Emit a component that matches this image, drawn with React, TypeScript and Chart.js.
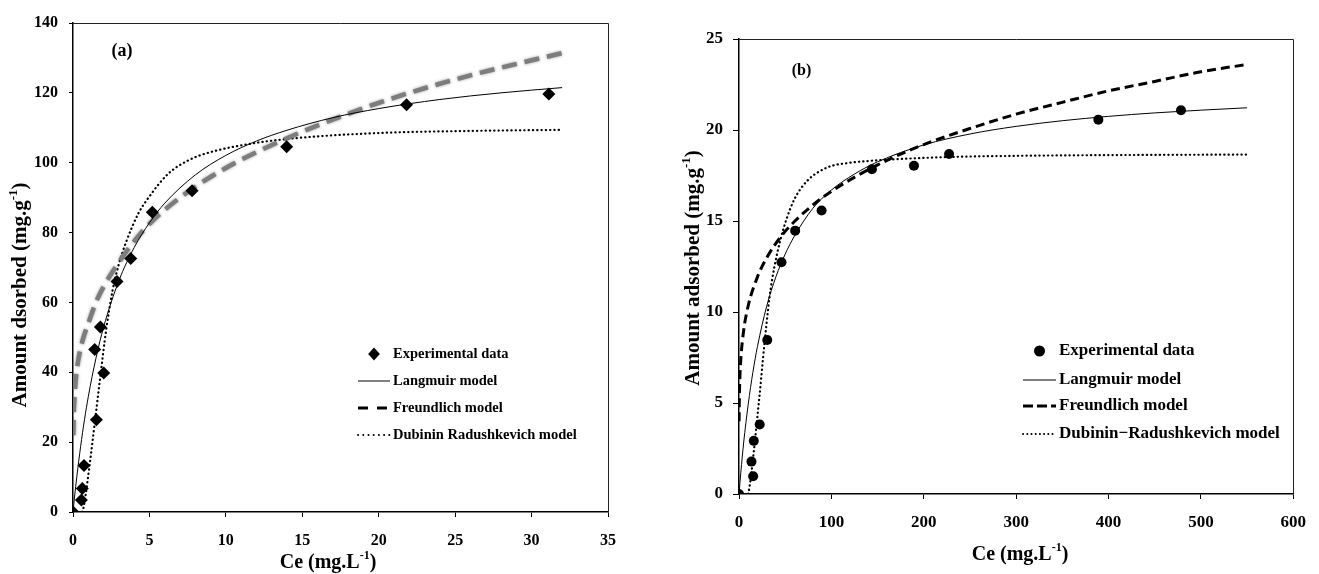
import React, { useEffect, useRef } from 'react';
import { Chart, registerables } from 'chart.js';

Chart.register(...registerables);
Chart.defaults.font.family = '"Liberation Serif", "Times New Roman", serif';
Chart.defaults.color = '#000';

// ---------------- (a) data ----------------
const xTicksA = [0, 5, 10, 15, 20, 25, 30, 35];
const yTicksA = [0, 20, 40, 60, 80, 100, 120, 140];

const expA_Ce = [0, 0.55, 0.61, 0.72, 1.53, 1.42, 1.79, 2.01, 2.88, 3.78, 5.19, 7.79, 13.98, 21.82, 31.13];
const expA_q = [0, 3.4, 6.7, 13.3, 26.4, 46.5, 53.0, 39.8, 66.0, 72.6, 85.8, 92.0, 104.6, 116.6, 119.7];

const langA_Ce = [0, 0.1, 0.25, 0.5, 0.75, 1, 1.5, 2, 3, 4, 5, 6, 8, 10, 12, 14, 17, 20, 24, 28, 32];
const langA_q = [0, 4.3, 10.1, 18.8, 26.4, 33.0, 44.0, 52.9, 66.2, 75.7, 82.8, 88.4, 96.5, 102.1, 106.2, 109.3, 112.9, 115.5, 118.1, 120.0, 121.5];

const freuA_Ce = [0.02, 0.05, 0.1, 0.2, 0.4, 0.7, 1, 1.5, 2, 3, 4, 5, 7, 10, 14, 18, 22, 26, 32];
const freuA_q = [22, 28.5, 33, 38.8, 44.8, 50.2, 54, 60, 64.5, 71.5, 77.5, 82.5, 90, 98.5, 107, 114, 120, 125, 131.4];

const drA_Ce = [0.6, 0.7, 0.83, 1.0, 1.16, 1.49, 1.82, 2.15, 2.59, 3.0, 3.45, 4.28, 5.11, 6.22, 7.6, 8.98, 11.7, 14.5, 20, 26, 32];
const drA_q = [0, 1.5, 5, 10.5, 16, 28, 40, 51.5, 63.5, 71, 77, 85.5, 91, 96.8, 100.8, 103, 105.5, 107, 108.5, 109.1, 109.4];

// ---------------- (b) data ----------------
const xTicksB = [0, 100, 200, 300, 400, 500, 600];
const yTicksB = [0, 5, 10, 15, 20, 25];

const expB_Ce = [0, 13.5, 15.3, 16, 22.4, 30.6, 46, 60.8, 89.4, 143.9, 189.4, 227.4, 389, 478.5];
const expB_q = [0, 1.78, 0.98, 2.92, 3.82, 8.46, 12.73, 14.47, 15.58, 17.84, 18.04, 18.68, 20.57, 21.09];

const langB_Ce = [0, 2, 5, 10, 15, 20, 30, 40, 50, 60, 80, 100, 125, 150, 200, 250, 300, 350, 400, 450, 500, 550];
const langB_q = [0, 1.2, 2.8, 4.94, 6.68, 8.11, 10.32, 11.94, 13.18, 14.17, 15.7, 16.7, 17.58, 18.25, 19.18, 19.78, 20.2, 20.51, 20.75, 20.94, 21.09, 21.22];

const freuB_Ce = [0.1, 0.5, 1, 2, 5, 10, 20, 30, 45, 60, 80, 100, 150, 200, 250, 300, 350, 400, 450, 500, 550];
const freuB_q = [4.0, 5.58, 6.44, 7.43, 8.97, 10.35, 11.93, 12.98, 14.12, 14.97, 15.88, 16.63, 18.08, 19.2, 20.08, 20.87, 21.52, 22.15, 22.67, 23.2, 23.6];

const drB_Ce = [10, 11.7, 13.5, 15.3, 17, 18.8, 20.6, 22.4, 25.9, 29.5, 33, 38, 45, 51.4, 60, 73.7, 96, 120, 140.7, 180, 230, 300, 400, 550];
const drB_q = [0, 0.5, 1.2, 2.0, 2.8, 3.7, 4.6, 5.5, 7.4, 9.2, 10.8, 12.4, 14.0, 15.1, 16.2, 17.2, 17.95, 18.2, 18.3, 18.42, 18.52, 18.58, 18.62, 18.65];

const legendA = ['Experimental data', 'Langmuir model', 'Freundlich model', 'Dubinin Radushkevich model'];
const legendB = ['Experimental data', 'Langmuir model', 'Freundlich model', 'Dubinin\u2212Radushkevich model'];

const pts = (xs: number[], ys: number[]) => xs.map((x, i) => ({ x, y: ys[i] }));

const FONT = '"Liberation Serif", "Times New Roman", serif';

type Seg = { t: string; sup?: boolean };

function drawRich(ctx: CanvasRenderingContext2D, segs: Seg[], cx: number, cy: number, size: number, rotate: boolean) {
  ctx.save();
  ctx.translate(cx, cy);
  if (rotate) ctx.rotate(-Math.PI / 2);
  const big = `bold ${size}px ${FONT}`;
  const small = `bold ${Math.round(size * 0.62)}px ${FONT}`;
  let total = 0;
  const widths = segs.map((s) => {
    ctx.font = s.sup ? small : big;
    const w = ctx.measureText(s.t).width;
    total += w;
    return w;
  });
  let x = -total / 2;
  ctx.fillStyle = '#000';
  ctx.textBaseline = 'middle';
  ctx.textAlign = 'left';
  segs.forEach((s, i) => {
    ctx.font = s.sup ? small : big;
    ctx.fillText(s.t, x, s.sup ? -size * 0.33 : 0);
    x += widths[i];
  });
  ctx.restore();
}

type LegendItem = { kind: 'diamond' | 'circle' | 'line'; dash?: number[]; width?: number; cap?: CanvasLineCap; text: string; y: number };

type Spec = {
  legend: LegendItem[];
  legendX0: number;
  legendX1: number;
  legendTextX: number;
  legendFont: number;
  yTitle: Seg[];
  yTitlePos: [number, number];
  xTitle: Seg[];
  xTitlePos: [number, number];
  titleSize: number;
  xTitleSize: number;
  tag: string;
  tagPos: [number, number];
  tagSize: number;
  blurIndex: number;
};

function decorPlugin(spec: Spec) {
  return {
    id: 'decor',
    beforeDatasetDraw(chart: any, args: any) {
      if (args.index === spec.blurIndex) {
        chart.ctx.save();
        chart.ctx.shadowColor = 'rgba(80,80,80,0.6)';
        chart.ctx.shadowBlur = 3;
      }
    },
    afterDatasetDraw(chart: any, args: any) {
      if (args.index === spec.blurIndex) chart.ctx.restore();
    },
    afterDraw(chart: any) {
      const ctx: CanvasRenderingContext2D = chart.ctx;
      const a = chart.chartArea;
      ctx.save();
      ctx.strokeStyle = '#222';
      ctx.lineWidth = 1;
      ctx.beginPath();
      ctx.moveTo(a.left, Math.round(a.top) + 0.5);
      ctx.lineTo(Math.round(a.right) + 0.5, Math.round(a.top) + 0.5);
      ctx.lineTo(Math.round(a.right) + 0.5, a.bottom);
      ctx.stroke();
      ctx.restore();

      // legend
      const cx = (spec.legendX0 + spec.legendX1) / 2;
      spec.legend.forEach((it) => {
        ctx.save();
        ctx.fillStyle = '#000';
        ctx.strokeStyle = '#000';
        if (it.kind === 'diamond') {
          const r = 6.5;
          ctx.beginPath();
          ctx.moveTo(cx, it.y - r);
          ctx.lineTo(cx + r * 0.9, it.y);
          ctx.lineTo(cx, it.y + r);
          ctx.lineTo(cx - r * 0.9, it.y);
          ctx.closePath();
          ctx.fill();
        } else if (it.kind === 'circle') {
          ctx.beginPath();
          ctx.arc(cx, it.y, 5.5, 0, Math.PI * 2);
          ctx.fill();
        } else {
          ctx.lineWidth = it.width || 1;
          ctx.lineCap = it.cap || 'butt';
          ctx.setLineDash(it.dash || []);
          ctx.beginPath();
          ctx.moveTo(spec.legendX0, it.y);
          ctx.lineTo(spec.legendX1, it.y);
          ctx.stroke();
        }
        ctx.setLineDash([]);
        ctx.font = `bold ${spec.legendFont}px ${FONT}`;
        ctx.textBaseline = 'middle';
        ctx.textAlign = 'left';
        ctx.fillText(it.text, spec.legendTextX, it.y);
        ctx.restore();
      });

      drawRich(ctx, spec.yTitle, spec.yTitlePos[0], spec.yTitlePos[1], spec.titleSize, true);
      drawRich(ctx, spec.xTitle, spec.xTitlePos[0], spec.xTitlePos[1], spec.xTitleSize, false);
      drawRich(ctx, [{ t: spec.tag }], spec.tagPos[0], spec.tagPos[1], spec.tagSize, false);
    },
  };
}

type AxisSpec = {
  xMax: number;
  yMax: number;
  xTicks: number[];
  yTicks: number[];
  yWidth: number;
  xHeight: number;
  padding: { left: number; top: number; right: number; bottom: number };
  tickSize: number;
  yTickLen: number;
  yPad: number;
  xPad: number;
};

function makeConfig(datasets: any[], ax: AxisSpec, spec: Spec): any {
  const tickFont = { family: FONT, size: ax.tickSize, weight: 'bold' as const };
  return {
    type: 'scatter',
    data: { datasets },
    options: {
      responsive: false,
      animation: false,
      events: [],
      layout: { padding: ax.padding },
      plugins: { legend: { display: false }, tooltip: { enabled: false }, title: { display: false } },
      scales: {
        x: {
          type: 'linear',
          min: 0,
          max: ax.xMax,
          afterBuildTicks: (s: any) => {
            s.ticks = ax.xTicks.map((v) => ({ value: v }));
          },
          afterFit: (s: any) => {
            s.height = ax.xHeight;
          },
          grid: { display: true, drawOnChartArea: false, drawTicks: true, tickLength: 5, color: '#000', lineWidth: 1 },
          border: { display: true, color: '#000', width: 1.5 },
          ticks: { color: '#000', font: tickFont, padding: ax.xPad, maxRotation: 0, autoSkip: false },
        },
        y: {
          type: 'linear',
          min: 0,
          max: ax.yMax,
          afterBuildTicks: (s: any) => {
            s.ticks = ax.yTicks.map((v) => ({ value: v }));
          },
          afterFit: (s: any) => {
            s.width = ax.yWidth;
          },
          grid: { display: true, drawOnChartArea: false, drawTicks: true, tickLength: ax.yTickLen, color: '#000', lineWidth: 1 },
          border: { display: true, color: '#000', width: 1.5 },
          ticks: { color: '#000', font: tickFont, padding: ax.yPad, autoSkip: false },
        },
      },
    },
    plugins: [decorPlugin(spec)],
  };
}

const curve = (data: any[], color: string, width: number, dash: number[], cap: string = 'butt') => ({
  data,
  showLine: true,
  borderColor: color,
  borderWidth: width,
  borderDash: dash,
  borderCapStyle: cap,
  pointRadius: 0,
  cubicInterpolationMode: 'monotone',
  fill: false,
});

const datasetsA = [
  {
    data: pts(expA_Ce, expA_q),
    showLine: false,
    pointStyle: 'rectRot',
    pointRadius: 6.5,
    backgroundColor: '#000',
    borderColor: '#000',
    borderWidth: 0,
  },
  curve(pts(langA_Ce, langA_q), '#000', 1, []),
  curve(pts(freuA_Ce, freuA_q), '#7d7d7d', 4.5, [15, 8]),
  curve(pts(drA_Ce, drA_q), '#000', 2.2, [0.3, 4], 'round'),
];

const datasetsB = [
  {
    data: pts(expB_Ce, expB_q),
    showLine: false,
    pointStyle: 'circle',
    pointRadius: 5,
    backgroundColor: '#000',
    borderColor: '#000',
    borderWidth: 0,
  },
  curve(pts(langB_Ce, langB_q), '#000', 1, []),
  curve(pts(freuB_Ce, freuB_q), '#000', 3, [9, 5]),
  curve(pts(drB_Ce, drB_q), '#000', 2.2, [0.3, 4], 'round'),
];

const specA: Spec = {
  legend: [
    { kind: 'diamond', text: legendA[0], y: 354 },
    { kind: 'line', width: 1, dash: [], text: legendA[1], y: 381 },
    { kind: 'line', width: 3, dash: [10, 9], text: legendA[2], y: 408 },
    { kind: 'line', width: 1.8, dash: [0.2, 5], cap: 'round', text: legendA[3], y: 435 },
  ],
  legendX0: 358,
  legendX1: 390,
  legendTextX: 393,
  legendFont: 14.5,
  yTitle: [{ t: 'Amount dsorbed (mg.g' }, { t: '-1', sup: true }, { t: ')' }],
  yTitlePos: [21, 295],
  xTitle: [{ t: 'Ce (mg.L' }, { t: '-1', sup: true }, { t: ')' }],
  xTitlePos: [328, 563],
  titleSize: 21,
  xTitleSize: 20,
  tag: '(a)',
  tagPos: [122, 51],
  tagSize: 18,
  blurIndex: 2,
};

const specB: Spec = {
  legend: [
    { kind: 'circle', text: legendB[0], y: 351 },
    { kind: 'line', width: 1, dash: [], text: legendB[1], y: 380 },
    { kind: 'line', width: 3, dash: [10, 4], text: legendB[2], y: 406 },
    { kind: 'line', width: 1.8, dash: [0.2, 4], cap: 'round', text: legendB[3], y: 434 },
  ],
  legendX0: 363,
  legendX1: 396,
  legendTextX: 399,
  legendFont: 17,
  yTitle: [{ t: 'Amount adsorbed (mg.g' }, { t: '-1', sup: true }, { t: ')' }],
  yTitlePos: [33.5, 268],
  xTitle: [{ t: 'Ce (mg.L' }, { t: '-1', sup: true }, { t: ')' }],
  xTitlePos: [360, 555],
  titleSize: 21,
  xTitleSize: 20,
  tag: '(b)',
  tagPos: [141.5, 71],
  tagSize: 16,
  blurIndex: -1,
};

const axisA: AxisSpec = {
  xMax: 35,
  yMax: 140,
  xTicks: xTicksA,
  yTicks: yTicksA,
  yWidth: 73,
  xHeight: 574 - 512,
  padding: { left: 0, top: 23, right: 660 - 608, bottom: 0 },
  tickSize: 16,
  yTickLen: 4,
  yPad: 11,
  xPad: 14,
};

const axisB: AxisSpec = {
  xMax: 600,
  yMax: 25,
  xTicks: xTicksB,
  yTicks: yTicksB,
  yWidth: 79,
  xHeight: 574 - 494,
  padding: { left: 0, top: 39, right: 659 - 642, bottom: 0 },
  tickSize: 17,
  yTickLen: 6,
  yPad: 10,
  xPad: 13,
};

function ChartCanvas({ config, width, height, left }: { config: any; width: number; height: number; left: number }) {
  const ref = useRef<HTMLCanvasElement>(null);
  useEffect(() => {
    const chart = new Chart(ref.current as HTMLCanvasElement, config);
    return () => chart.destroy();
  }, [config]);
  return (
    <canvas
      ref={ref}
      width={width}
      height={height}
      style={{ position: 'absolute', left, top: 0, width, height, display: 'block' }}
    />
  );
}

const configA = makeConfig(datasetsA, axisA, specA);
const configB = makeConfig(datasetsB, axisB, specB);

export default function App() {
  return (
    <div style={{ position: 'absolute', left: 0, top: 0, width: 1319, height: 574, background: '#fff', overflow: 'hidden' }}>
      <ChartCanvas config={configA} width={660} height={574} left={0} />
      <ChartCanvas config={configB} width={659} height={574} left={660} />
    </div>
  );
}
